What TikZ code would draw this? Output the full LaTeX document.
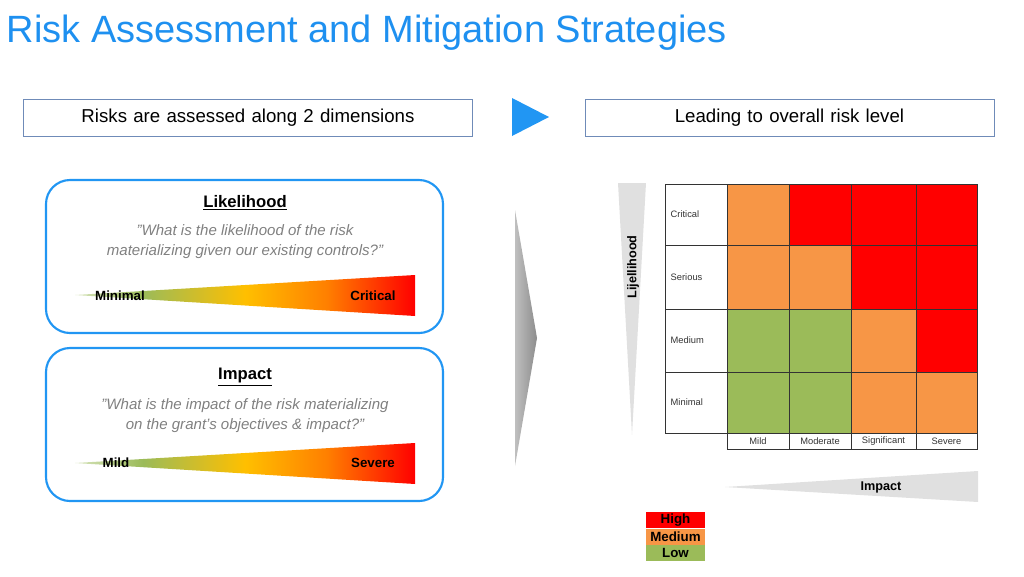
\documentclass[tikz,border=0pt]{standalone}
\usepackage{fontspec}
\setmainfont{Liberation Sans}
\usetikzlibrary{positioning}
\definecolor{titleblue}{HTML}{1E90F0}
\definecolor{framegray}{HTML}{6F8BB8}
\definecolor{roundblue}{HTML}{2196F3}
\definecolor{cellorange}{HTML}{F79646}
\definecolor{cellred}{HTML}{FF0000}
\definecolor{cellgreen}{HTML}{9BBB59}
\definecolor{quotegray}{HTML}{808080}
\pgfdeclarehorizontalshading{heat}{100bp}{color(0bp)=(cellgreen!40!white); color(25bp)=(cellgreen!40!white); color(35bp)=(cellgreen); color(50bp)=(orange!50!yellow); color(62bp)=(orange); color(75bp)=(red); color(100bp)=(red)}
\tikzset{
  header/.style={draw=framegray, minimum height=27.75pt, text width=#1, align=center, font=\fontsize{14}{16}\selectfont},
  panel/.style={draw=roundblue, line width=1.6pt, rounded corners=18},
  quote/.style={text=quotegray, font=\itshape\fontsize{11.3}{15}\selectfont, align=center},
  cell/.style={draw=black!80, line width=0.5pt},
  axislabel/.style={font=\fontsize{7}{8}\selectfont, text=black!80},
  lvl/.style={font=\bfseries\fontsize{10}{10}\selectfont, inner sep=0pt}
}
\begin{document}
\begin{tikzpicture}[x=0.75pt,y=-0.75pt]
\useasboundingbox (0,0) rectangle (1024,576);
\node (title) [anchor=west, text=titleblue, font=\fontsize{28.5}{32}\selectfont] at (2,33) {Risk Assessment and Mitigation Strategies};
\node (dims) [header=330] at (248,117.5) {Risks are assessed along 2 dimensions};
\node (level) [header=300] at (789.5,117.5) {Leading to overall risk level};
\fill[roundblue] (512,98) -- (549,117) -- (512,136) -- cycle;

% panels
\draw[panel] (46,180) rectangle (443,333);
\draw[panel] (46,348) rectangle (443,501);
\node (lik) [font=\bfseries\fontsize{12.5}{14}\selectfont] at (245,203) {\underline{Likelihood}};
\node (likq) [quote] at (245,242) {"What is the likelihood of the risk\\materializing given our existing controls?"};
\begin{scope}
  \clip (75,295) -- (415,275) -- (415,316) -- cycle;
  \shade[shading=heat] (75,274) rectangle (415,317);
\end{scope}
\node (likmin) [lvl] at (120,296) {Minimal};
\node (likmax) [lvl] at (373,296) {Critical};
\node (imp) [font=\bfseries\fontsize{12.5}{14}\selectfont] at (245,377) {\underline{Impact}};
\node (impq) [quote] at (245,416) {"What is the impact of the risk materializing\\on the grant's objectives \& impact?"};
\begin{scope}
  \clip (75,463) -- (415,443) -- (415,484) -- cycle;
  \shade[shading=heat] (75,442) rectangle (415,485);
\end{scope}
\node (impmin) [lvl] at (116,463) {Mild};
\node (impmax) [lvl] at (373,463) {Severe};

% chevron
\shade[left color=black!25, right color=black!45] (515,210) -- (537,338) -- (515,466) -- cycle;

% matrix
\foreach \y/\h/\lab in {184/61/Critical,245/64/Serious,309/63/Medium,372/61/Minimal}{
  \draw[cell, fill=white] (665,\y) rectangle ++(62,\h);
  \node[axislabel, anchor=west] at (666,\y+\h/2) {\lab};
}
\foreach \x/\y/\w/\h/\c in {727/184/62/61/cellorange,789/184/62/61/cellred,851/184/65/61/cellred,916/184/61/61/cellred,
  727/245/62/64/cellorange,789/245/62/64/cellorange,851/245/65/64/cellred,916/245/61/64/cellred,
  727/309/62/63/cellgreen,789/309/62/63/cellgreen,851/309/65/63/cellorange,916/309/61/63/cellred,
  727/372/62/61/cellgreen,789/372/62/61/cellgreen,851/372/65/61/cellorange,916/372/61/61/cellorange}
  \draw[cell, fill=\c] (\x,\y) rectangle ++(\w,\h);
\foreach \x/\w/\lab in {727/62/Mild,789/62/Moderate,851/65/Significant,916/61/Severe}{
  \draw[cell] (\x,433) rectangle ++(\w,16);
  \node[axislabel] at (\x+\w/2,441) {\lab};
}

% axes
\fill[black!12] (618,183) -- (646,183) -- (632,435) -- cycle;
\node (likaxis) [rotate=90, font=\bfseries\fontsize{9.5}{10}\selectfont] at (633,267) {Lijellihood};
\fill[black!12] (725,487) -- (978,471) -- (978,502) -- cycle;
\node (impaxis) [font=\bfseries\fontsize{9.5}{10}\selectfont] at (881,487) {Impact};

% legend
\node (high) [fill=cellred, minimum width=44.5pt, minimum height=12pt, lvl] at (675.5,520) {High};
\node (med) [fill=cellorange, minimum width=44.5pt, minimum height=12pt, lvl, below=0pt of high] {Medium};
\node (low) [fill=cellgreen, minimum width=44.5pt, minimum height=12pt, lvl, below=0pt of med] {Low};
\end{tikzpicture}
\end{document}
